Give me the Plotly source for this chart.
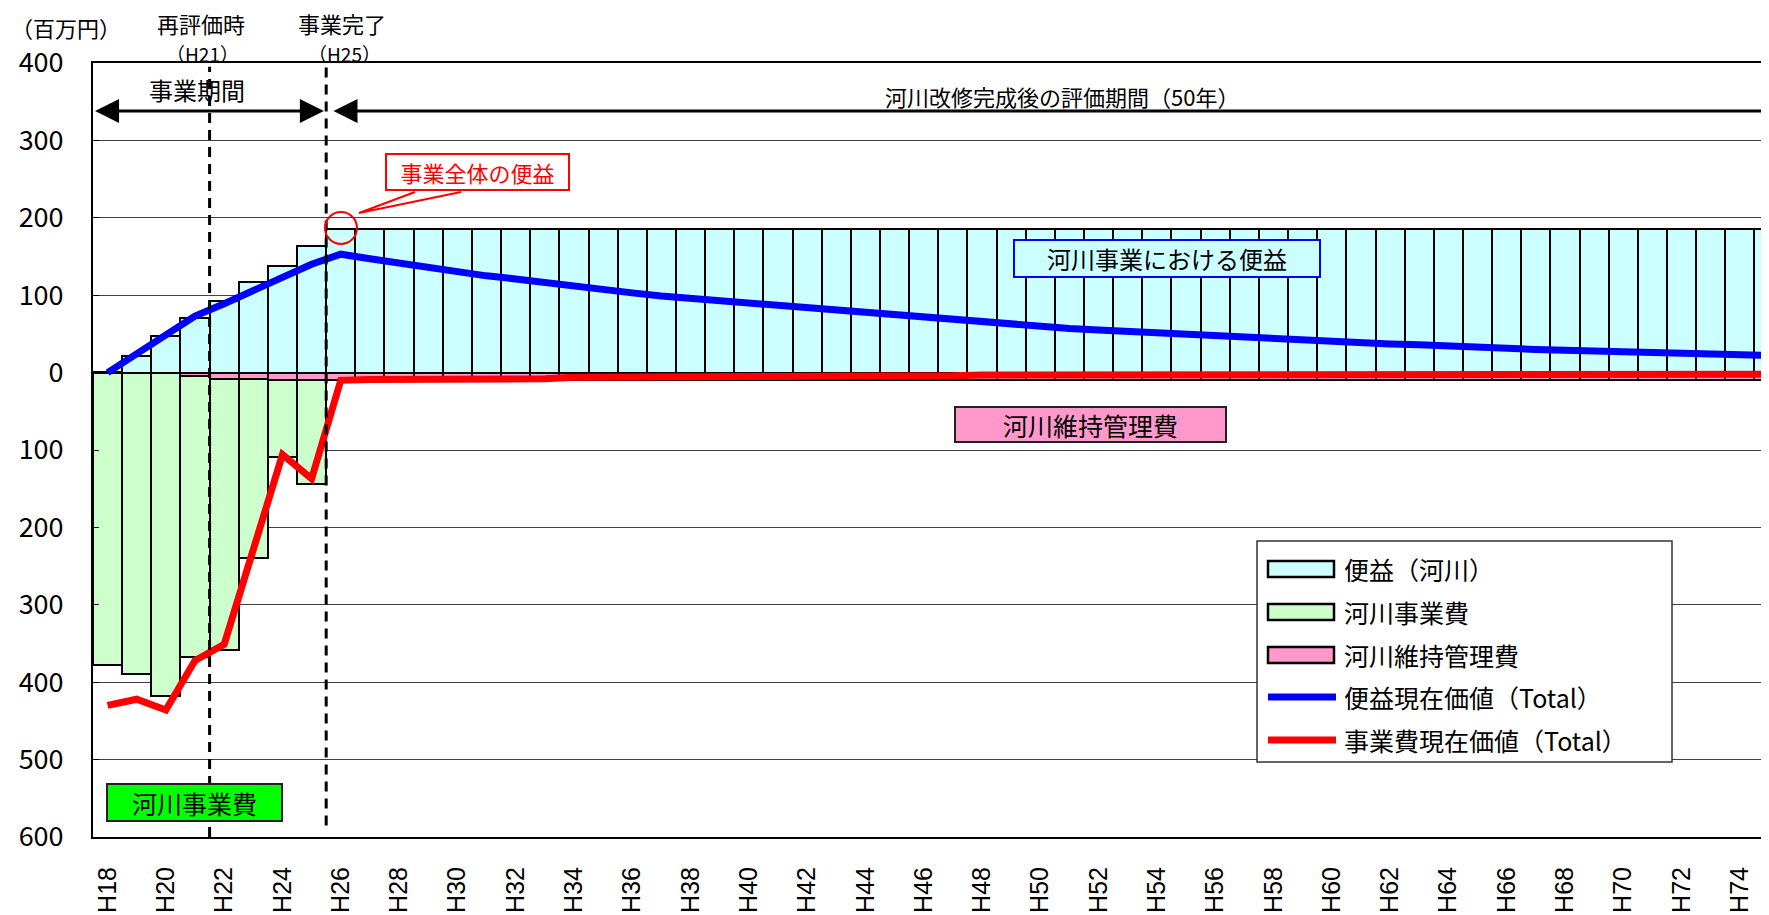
import plotly.graph_objects as go

# ---------------- data ----------------
years = ["H%d" % n for n in range(18, 76)]

benefit = [0, 22, 47, 70, 92, 117, 138, 164,
           186, 186, 186, 186, 186, 186, 186, 186, 186, 186,
           186, 186, 186, 186, 186, 186, 186, 186, 186, 186,
           186, 186, 186, 186, 186, 186, 186, 186, 186, 186,
           186, 186, 186, 186, 186, 186, 186, 186, 186, 186,
           186, 186, 186, 186, 186, 186, 186, 186, 186, 186]

maintenance = [0, 0, 0, -4, -8, -8, -10, -10,
               -10, -10, -10, -10, -10, -10, -10, -10, -10, -10,
               -10, -10, -10, -10, -10, -10, -10, -10, -10, -10,
               -10, -10, -10, -10, -10, -10, -10, -10, -10, -10,
               -10, -10, -10, -10, -10, -10, -10, -10, -10, -10,
               -10, -10, -10, -10, -10, -10, -10, -10, -10, -10]

project_cost = [-378, -389, -418, -364, -351, -231, -99, -134,
                0, 0, 0, 0, 0, 0, 0, 0, 0, 0,
                0, 0, 0, 0, 0, 0, 0, 0, 0, 0,
                0, 0, 0, 0, 0, 0, 0, 0, 0, 0,
                0, 0, 0, 0, 0, 0, 0, 0, 0, 0,
                0, 0, 0, 0, 0, 0, 0, 0, 0, 0]

benefit_pv = [0, 24, 50, 73, 89, 107, 123, 140,
              153, 147, 141, 136, 130, 125, 121, 116, 112, 107,
              103, 99, 96, 92, 88, 85, 82, 79, 76, 73,
              70, 67, 65, 62, 60, 57, 55, 53, 51, 49,
              47, 45, 44, 42, 40, 39, 37, 36, 34, 33,
              32, 30, 29, 28, 27, 26, 25, 24, 23, 22]

cost_pv = [-430, -422, -436, -372, -351, -231, -106, -137,
           -10, -9, -9, -9, -8, -8, -8, -8, -6, -6,
           -6, -6, -5, -5, -5, -5, -5, -5, -5, -4,
           -4, -4, -3, -3, -3, -3, -3, -3, -3, -3,
           -3, -3, -3, -3, -3, -3, -2, -2, -2, -2,
           -2, -2, -2, -2, -2, -2, -2, -2, -2, -2]

y_ticks = [400, 300, 200, 100, 0, -100, -200, -300, -400, -500, -600]
y_tick_text = ["400", "300", "200", "100", "0", "100", "200", "300", "400", "500", "600"]

legend_labels = ["便益（河川）", "河川事業費", "河川維持管理費",
                 "便益現在価値（Total）", "事業費現在価値（Total）"]

# ---------------- styling ----------------
JP = "Noto Sans CJK JP"
C_BEN = "#CCFFFF"
C_COST = "#CCFFCC"
C_MAINT = "#FF99CC"
C_BLUE = "#0000FF"
C_RED = "#FF0000"

OFF = 8                      # page body margin of the html page
W, H = 1769 - OFF, 915 - OFF
ML, MR, MT, MB = 93 - OFF, 0, 63 - OFF, 78
PW, PH = W - ML - MR, H - MT - MB


def px(x):
    return (x - OFF - ML) / PW


def py(y):
    return (H - MB - (y - OFF)) / PH


def note(x, y, text, size, color="black", **kw):
    d = dict(xref="paper", yref="paper", x=px(x), y=py(y), text=text, showarrow=False,
             xanchor="center", yanchor="middle",
             font=dict(family=JP, size=size, color=color))
    d.update(kw)
    return d


fig = go.Figure()
fig.add_trace(go.Bar(x=years, y=benefit, name=legend_labels[0], marker_color=C_BEN,
                     marker_line=dict(color="black", width=2), showlegend=False))
fig.add_trace(go.Bar(x=years, y=maintenance, name=legend_labels[2], marker_color=C_MAINT,
                     marker_line=dict(color="black", width=2), showlegend=False))
fig.add_trace(go.Bar(x=years, y=project_cost, name=legend_labels[1], marker_color=C_COST,
                     marker_line=dict(color="black", width=2), showlegend=False))
fig.add_trace(go.Scatter(x=years, y=benefit_pv, name=legend_labels[3], mode="lines",
                         line=dict(color=C_BLUE, width=7), showlegend=False))
fig.add_trace(go.Scatter(x=years, y=cost_pv, name=legend_labels[4], mode="lines",
                         line=dict(color=C_RED, width=7), showlegend=False))

shapes = []
annotations = []

# dashed vertical lines (H21 re-evaluation, H25 completion)
shapes.append(dict(type="line", xref="x", yref="y", x0=3.5, x1=3.5, y0=-600, y1=395,
                   line=dict(color="black", width=3, dash="10px,7px")))
shapes.append(dict(type="line", xref="x", yref="y", x0=7.5, x1=7.5, y0=-585, y1=395,
                   line=dict(color="black", width=3, dash="10px,7px")))

# period arrows
annotations.append(dict(xref="x", yref="y", axref="x", ayref="y",
                        x=7.42, y=338, ax=-0.48, ay=338, text="", showarrow=True,
                        arrowhead=2, arrowsize=1.6, arrowwidth=3, arrowside="end+start",
                        arrowcolor="black"))
annotations.append(dict(xref="x", yref="y", axref="x", ayref="y",
                        x=7.75, y=338, ax=57.2, ay=338, text="", showarrow=True,
                        arrowhead=2, arrowsize=1.6, arrowwidth=3, arrowside="end",
                        arrowcolor="black"))
annotations.append(note(197, 90, "事業期間", 24))
annotations.append(note(1062, 96, "河川改修完成後の評価期間（50年）", 22))

# header texts
annotations.append(note(66, 27, "（百万円）", 22))
annotations.append(note(201, 23, "再評価時", 22))
annotations.append(note(202, 53, "（H21）", 19))
annotations.append(note(342, 23, "事業完了", 22))
annotations.append(note(344, 53, "（H25）", 19))

# callout "事業全体の便益"
annotations.append(note(477.5, 172, "事業全体の便益", 22, C_RED,
                        width=181, height=34, bgcolor="white",
                        bordercolor=C_RED, borderwidth=2, borderpad=0))
shapes.append(dict(type="circle", xref="paper", yref="paper",
                   x0=px(325), x1=px(357), y0=py(244), y1=py(212),
                   line=dict(color=C_RED, width=2)))
shapes.append(dict(type="path", xref="paper", yref="paper",
                   path="M %f %f L %f %f L %f %f" % (px(415), py(192), px(359), py(213), px(461), py(192)),
                   line=dict(color=C_RED, width=2)))

# labelled boxes
annotations.append(note(1167, 258.5, "河川事業における便益", 24,
                        width=304, height=35, bgcolor=C_BEN,
                        bordercolor=C_BLUE, borderwidth=2, borderpad=0))
annotations.append(note(1090.5, 424.5, "河川維持管理費", 25,
                        width=269, height=33, bgcolor=C_MAINT,
                        bordercolor="#222222", borderwidth=2, borderpad=0))
annotations.append(note(194.5, 802.5, "河川事業費", 25,
                        width=173, height=35, bgcolor="#00FF00",
                        bordercolor="#222222", borderwidth=2, borderpad=0))

# custom legend
shapes.append(dict(type="rect", xref="paper", yref="paper",
                   x0=px(1257), x1=px(1672), y0=py(762), y1=py(541),
                   fillcolor="white", line=dict(color="#333333", width=1.5)))
row_y = [569, 612, 655, 697, 740]
sym_fill = [C_BEN, C_COST, C_MAINT]
for i in range(3):
    shapes.append(dict(type="rect", xref="paper", yref="paper",
                       x0=px(1268), x1=px(1334), y0=py(row_y[i] + 8), y1=py(row_y[i] - 8),
                       fillcolor=sym_fill[i], line=dict(color="black", width=2.5)))
for i, c in zip([3, 4], [C_BLUE, C_RED]):
    shapes.append(dict(type="line", xref="paper", yref="paper",
                       x0=px(1268), x1=px(1336), y0=py(row_y[i]), y1=py(row_y[i]),
                       line=dict(color=c, width=7)))
for i, lab in enumerate(legend_labels):
    annotations.append(note(1342, row_y[i], lab, 25, xanchor="left"))

fig.update_layout(
    width=W, height=H,
    margin=dict(l=ML, r=MR, t=MT, b=MB, pad=0),
    paper_bgcolor="white", plot_bgcolor="white",
    barmode="relative", bargap=0,
    showlegend=False,
    shapes=shapes, annotations=annotations,
    font=dict(family=JP, color="black"),
)
fig.update_xaxes(
    type="category", range=[-0.5, 57.0],
    tickmode="array", tickvals=years[::2], ticktext=years[::2],
    tickangle=-90, tickfont=dict(family="Liberation Sans", size=25, color="black"),
    ticks="", ticklabelstandoff=18,
    showgrid=False, showline=True, linecolor="black", linewidth=2, mirror=True,
)
fig.update_yaxes(
    range=[-600, 400], tickmode="array", tickvals=y_ticks, ticktext=y_tick_text,
    tickfont=dict(family=JP, size=27, color="black"),
    ticks="inside", ticklen=6, tickcolor="black", ticklabelstandoff=22,
    showgrid=True, gridcolor="#404040", gridwidth=1,
    zeroline=True, zerolinecolor="black", zerolinewidth=3,
    showline=True, linecolor="black", linewidth=2,
)

fig.write_html("out.html")
